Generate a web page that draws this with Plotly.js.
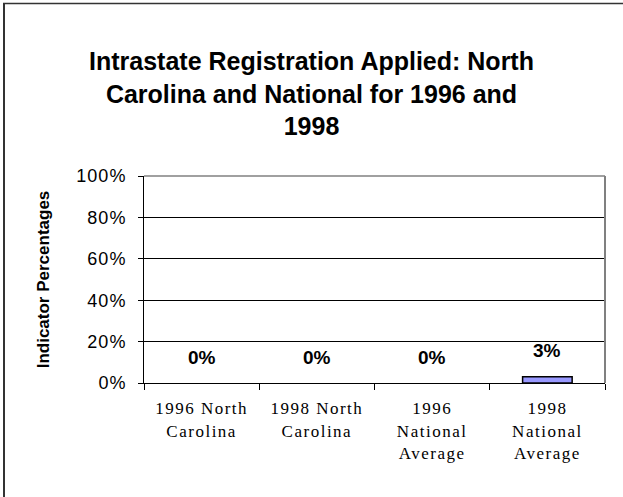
<!DOCTYPE html>
<html>
<head>
<meta charset="utf-8">
<script src="https://cdn.plot.ly/plotly-3.0.1.min.js"></script>
<style>
  html, body { margin: 0; padding: 0; background: #fff; }
  #chart { width: 623px; height: 497px; }
  .xtick text { letter-spacing: 1.5px; }
  .ytick text { letter-spacing: 1px; }
</style>
</head>
<body>
<div id="chart"></div>
<script>
// Data
const categories = [
  "1996 North<br>Carolina",
  "1998 North<br>Carolina",
  "1996<br>National<br>Average",
  "1998<br>National<br>Average"
];
const values = [0, 0, 0, 3];
const labels = ["0%", "0%", "0%", "3%"];
const yTicks = [0, 20, 40, 60, 80, 100];
const yTickLabels = ["0%", "20%", "40%", "60%", "80%", "100%"];

const W = 623, H = 497;
const M = { l: 144, r: 18, t: 176, b: 114 };
const pw = W - M.l - M.r, ph = H - M.t - M.b;
const px = x => (x - M.l) / pw;
const py = y => (H - M.b - y) / ph;

const trace = {
  type: "bar",
  x: categories,
  y: values,
  marker: {
    color: "#9999FF",
    line: { color: "#000", width: values.map(v => (v > 0 ? 1.5 : 0)) }
  },
  hoverinfo: "skip"
};

const annotations = categories.map((c, i) => ({
  x: c, y: values[i], xref: "x", yref: "y",
  text: "<b>" + labels[i] + "</b>",
  showarrow: false, yanchor: "middle", yshift: 26,
  font: { family: "Liberation Sans, Arial, sans-serif", size: 19, color: "#000" }
}));

const layout = {
  width: W, height: H,
  margin: M,
  paper_bgcolor: "#fff",
  plot_bgcolor: "#fff",
  showlegend: false,
  bargap: 0.57,
  title: {
    text: "<b>Intrastate Registration Applied: North<br>Carolina and National for 1996 and<br>1998</b>",
    font: { family: "Liberation Sans, Arial, sans-serif", size: 25, color: "#000" },
    x: 0.5, xref: "container", xanchor: "center",
    y: 1 - 70 / H, yref: "container", yanchor: "top"
  },
  xaxis: {
    type: "category",
    showline: true, linecolor: "#000", linewidth: 1,
    ticks: "outside", tickson: "boundaries", ticklen: 6, tickcolor: "#000",
    ticklabelstandoff: 10,
    tickfont: { family: "Liberation Serif, Times New Roman, serif", size: 17, color: "#000" },
    showgrid: false, fixedrange: true
  },
  yaxis: {
    range: [0, 100],
    tickvals: yTicks, ticktext: yTickLabels,
    showline: true, linecolor: "#000", linewidth: 1,
    ticks: "outside", ticklen: 5, tickcolor: "#000",
    ticklabelstandoff: 8,
    tickfont: { family: "Liberation Sans, Arial, sans-serif", size: 18, color: "#000" },
    showgrid: true, gridcolor: "#000", gridwidth: 1,
    zeroline: false, fixedrange: true,
    title: {
      text: "<b>Indicator Percentages</b>",
      font: { family: "Liberation Sans, Arial, sans-serif", size: 17, color: "#000" },
      standoff: 22
    }
  },
  annotations: annotations,
  shapes: [
    // plot area border (top and right, gray)
    { type: "line", xref: "paper", yref: "paper", x0: 0, x1: 1, y0: 1, y1: 1,
      line: { color: "#808080", width: 1.5 } },
    { type: "line", xref: "paper", yref: "paper", x0: 1, x1: 1, y0: 0, y1: 1,
      line: { color: "#808080", width: 2 } },
    // outer chart frame
    { type: "line", xref: "paper", yref: "paper", x0: px(4), x1: px(4), y0: py(3), y1: py(510),
      line: { color: "#333", width: 2 } },
    { type: "line", xref: "paper", yref: "paper", x0: px(3), x1: px(640), y0: py(3.5), y1: py(3.5),
      line: { color: "#333", width: 1.5 } }
  ]
};

Plotly.newPlot("chart", [trace], layout, { displayModeBar: false, staticPlot: true });
</script>
</body>
</html>
